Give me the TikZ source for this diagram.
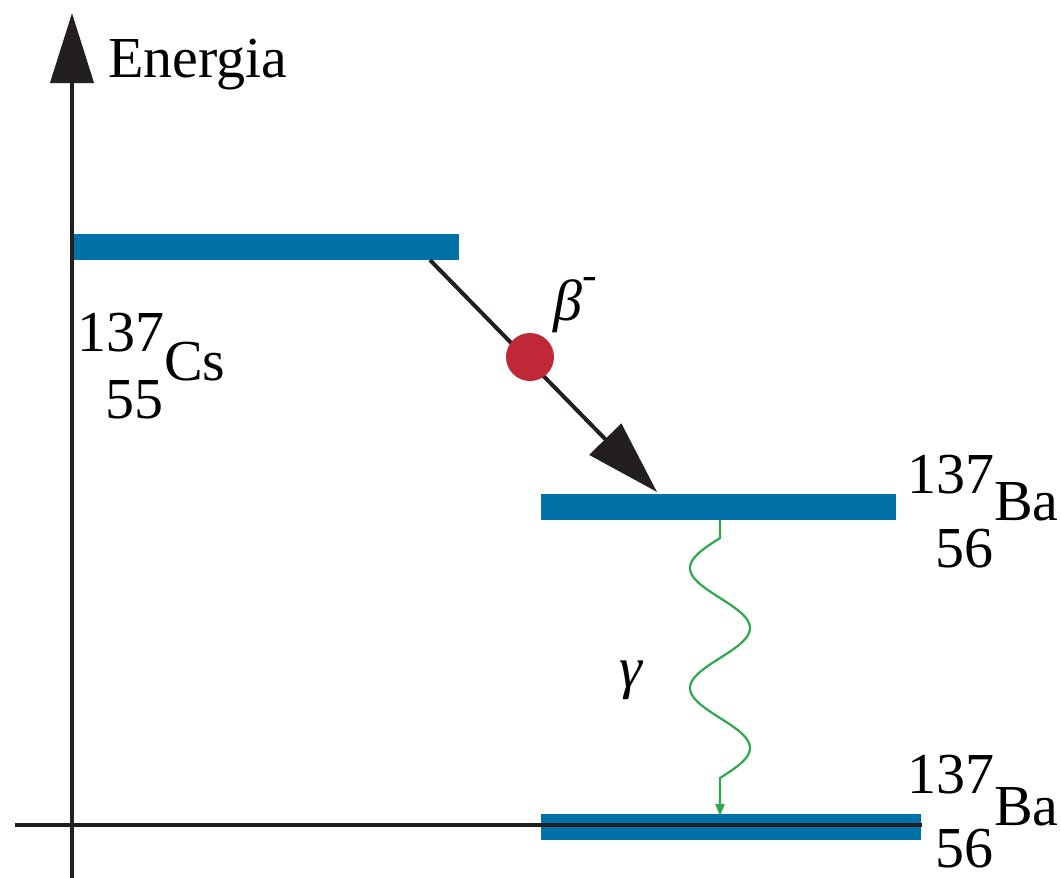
\documentclass[tikz,border=0pt]{standalone}
\usepackage{fontspec}
\setmainfont{Liberation Serif}
\usepackage{tikz}
\usetikzlibrary{arrows.meta}
\definecolor{levelblue}{RGB}{0,114,168}
\definecolor{dotred}{RGB}{192,40,55}
\definecolor{gammagreen}{RGB}{48,168,80}
\definecolor{axisblack}{RGB}{35,31,32}

\begin{document}
\begin{tikzpicture}[
  x=1pt, y=-1pt,
  font=\fontsize{58}{60}\selectfont,
  level/.style={fill=levelblue, minimum height=26pt, inner sep=0pt, outer sep=0pt},
  lbl/.style={inner sep=0pt, anchor=base west},
  axis/.style={line width=4pt, axisblack},
  ar/.style={-{Triangle[length=74pt, width=44pt]}, line width=4pt, axisblack},
  wave/.style={-{Triangle[length=12pt, width=9pt]}, line width=2.2pt, gammagreen},
  dot/.style={circle, fill=dotred, minimum size=48pt, inner sep=0pt}
]
\useasboundingbox (0,0) rectangle (1061,878);
\node[level, minimum width=387pt] (cs) at (265.5,247) {};
\node[level, minimum width=355pt] (ba) at (718.5,507) {};
\node[level, minimum width=380pt] (ground) at (731,827) {};
\coordinate (ytop) at (72,13);
\coordinate (ybot) at (72,878);
\coordinate (xleft) at (15,825);
\coordinate (xright) at (922,825);
\draw[axis, -{Triangle[length=70pt, width=43pt]}] (ybot) -- (ytop);
\draw[axis] (xleft) -- (xright);
\node[lbl] (energy) at (108,77) {Energia};
\draw[ar] ([xshift=-29pt]cs.south east) -- ([xshift=116pt, yshift=2pt]ba.north west);
\node[dot] (particle) at (530,357) {};
\node[lbl] (beta) at (553,320) {\itshape β\raisebox{.52em}{\fontsize{44}{44}\selectfont -}};
\draw[wave] ([xshift=1.5pt]ba.south) -- ++(0,18)
  -- plot[domain=0:240, samples=97, smooth] ({720-30*sin(3*\x)}, {538+\x})
  -- ([xshift=1.5pt, yshift=-2pt]ba.south |- ground.north);
\node[lbl] (gamma) at (619,687) {\itshape γ};
\node[lbl] (cs137) at (77,351) {137};
\node[lbl] (cssym) at (164,380) {Cs};
\node[lbl] (cs55) at (105,418) {55};
\node[lbl] (ba137) at (907,493) {137};
\node[lbl] (basym) at (994,520) {Ba};
\node[lbl] (ba56) at (935,567) {56};
\node[lbl] (gr137) at (907,793) {137};
\node[lbl] (grsym) at (994,825) {Ba};
\node[lbl] (gr56) at (935,867) {56};
\end{tikzpicture}
\end{document}
